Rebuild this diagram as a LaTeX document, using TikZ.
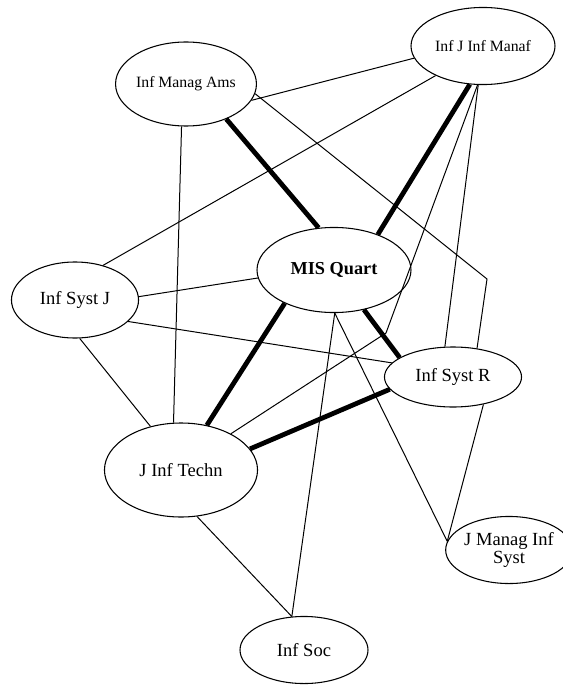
\documentclass[tikz,border=0pt]{standalone}
\usepackage{fontspec}
\setmainfont{Liberation Serif}
\usetikzlibrary{shapes.geometric}
\begin{document}
\begin{tikzpicture}[x=0.75pt,y=-0.75pt,
    journal/.style={draw, ellipse, line width=0.8pt, inner sep=0pt, align=center,
      font=\fontsize{13.9}{13.5}\selectfont},
    smalljournal/.style={journal, font=\fontsize{11.8}{12}\selectfont},
    cite/.style={line width=0.75pt},
    strong/.style={line width=3.6pt}]
    \useasboundingbox (0,0) rectangle (562,685);

    \node[smalljournal, minimum width=96pt, minimum height=63pt] (ams) at (186,84) {Inf Manag Ams};
    \node[smalljournal, minimum width=108pt, minimum height=57.8pt] (manaf) at (483,46) {Inf J Inf Manaf};
    \node[journal, minimum width=115.5pt, minimum height=63.8pt, font=\fontsize{13.7}{14}\bfseries] (misq) at (334,270) {MIS Quart};
    \node[journal, minimum width=95.3pt, minimum height=57pt] (systj) at (75,300) {Inf Syst J};
    \node[journal, minimum width=102.8pt, minimum height=45pt] (systr) at (453,377) {Inf Syst R};
    \node[journal, minimum width=114.8pt, minimum height=70.5pt] (jit) at (181,470) {J Inf Techn};
    \node[journal, minimum width=84pt, minimum height=50.3pt] (jmis) at (509,550) {J Manag Inf\\Syst};
    \node[journal, minimum width=96pt, minimum height=50.3pt] (soc) at (304,650) {Inf Soc};

    \coordinate (amsbend) at (487,279);
    \coordinate (manafbend) at (386,333);

    % strong links
    \draw[strong] (ams.319.6) -- (misq.110.9);
    \draw[strong] (manaf.251.1) -- (misq.39.1);
    \draw[strong] (misq.307.8) -- (systr.160.5);
    \draw[strong] (misq.214.5) -- (jit.60.1);
    \draw[strong] (systr.191.3) -- (jit.17.7);

    % weak links
    \draw[cite] (ams.346) -- (manaf.190.6);
    \draw[cite] (ams.264.7) -- (jit.99.7);
    \draw[cite] (ams.352.6) -- (amsbend) -- (systr.50.2);
    \draw[cite] (manaf.212) -- (systj.51.7);
    \draw[cite] (manaf.262.7) -- (manafbend) -- (jit.36.7);
    \draw[cite] (manaf.263.5) -- (systr.105);
    \draw[cite] (systj.3.6) -- (misq.186.8);
    \draw[cite] (misq.271.3) -- (soc.110.6);
    \draw[cite] (misq.271.3) -- (jmis.172.7);
    \draw[cite] (systj.338.6) -- (systr.167.5);
    \draw[cite] (systj.277.3) -- (jit.125);
    \draw[cite] (systr.318.6) -- (jmis.172.7);
    \draw[cite] (jit.289.9) -- (soc.110.6);
\end{tikzpicture}
\end{document}
